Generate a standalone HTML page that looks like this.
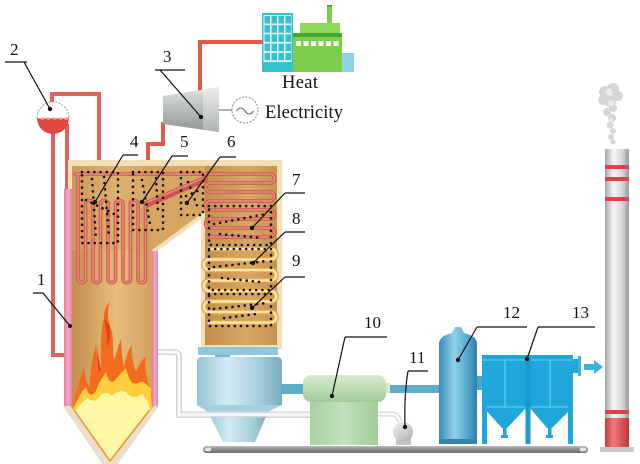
<!DOCTYPE html>
<html><head><meta charset="utf-8"><style>
html,body{margin:0;padding:0;background:#fff;}
svg{display:block;}
text{font-family:"Liberation Serif",serif;fill:#111;}
</style></head><body>
<svg width="640" height="464" viewBox="0 0 640 464" xmlns="http://www.w3.org/2000/svg">
<defs>
<linearGradient id="fur" x1="0" x2="1" y1="0" y2="0"><stop offset="0" stop-color="#c38d4d"/><stop offset="0.55" stop-color="#e6bd7d"/><stop offset="1" stop-color="#d3a162"/></linearGradient>
<linearGradient id="bp" x1="0" x2="1"><stop offset="0" stop-color="#c48e4c"/><stop offset="0.6" stop-color="#d7a864"/><stop offset="1" stop-color="#c69250"/></linearGradient>
<linearGradient id="turb" x1="0" x2="0" y1="0" y2="1"><stop offset="0" stop-color="#e2e4e4"/><stop offset="1" stop-color="#8e9394"/></linearGradient>
<linearGradient id="turb2" x1="0" x2="0" y1="0" y2="1"><stop offset="0" stop-color="#eceeee"/><stop offset="1" stop-color="#aeb2b3"/></linearGradient>
<linearGradient id="pre" x1="0" x2="1"><stop offset="0" stop-color="#93c4d3"/><stop offset="0.35" stop-color="#d3ebf2"/><stop offset="0.7" stop-color="#a9d2de"/><stop offset="1" stop-color="#79adbf"/></linearGradient>
<linearGradient id="grn" x1="0" x2="0" y1="0" y2="1"><stop offset="0" stop-color="#d6ecd0"/><stop offset="1" stop-color="#9fcb98"/></linearGradient>
<linearGradient id="grn2" x1="0" x2="1"><stop offset="0" stop-color="#a9d2a2"/><stop offset="0.5" stop-color="#c2e0bc"/><stop offset="1" stop-color="#a2cc9b"/></linearGradient>
<linearGradient id="tow" x1="0" x2="1"><stop offset="0" stop-color="#3b8db7"/><stop offset="0.4" stop-color="#8fd0e6"/><stop offset="0.75" stop-color="#55a8cc"/><stop offset="1" stop-color="#2f7ea7"/></linearGradient>
<linearGradient id="stk" x1="0" x2="1"><stop offset="0" stop-color="#a6a6a6"/><stop offset="0.35" stop-color="#f5f5f5"/><stop offset="0.7" stop-color="#d9d9d9"/><stop offset="1" stop-color="#9a9a9a"/></linearGradient>
<linearGradient id="stkr" x1="0" x2="1"><stop offset="0" stop-color="#c63a3e"/><stop offset="0.35" stop-color="#f27a78"/><stop offset="1" stop-color="#c03438"/></linearGradient>
<linearGradient id="conv" x1="0" x2="0" y1="0" y2="1"><stop offset="0" stop-color="#b9bdbe"/><stop offset="0.5" stop-color="#858a8b"/><stop offset="1" stop-color="#6a6f70"/></linearGradient>
<linearGradient id="pump" x1="0" x2="1" y1="0" y2="1"><stop offset="0" stop-color="#f4f4f4"/><stop offset="1" stop-color="#a8abac"/></linearGradient>
<linearGradient id="pink" x1="0" x2="1"><stop offset="0" stop-color="#e57ea6"/><stop offset="0.5" stop-color="#f5a6c4"/><stop offset="1" stop-color="#e483aa"/></linearGradient>
</defs>

<!-- buildings -->
<rect x="262" y="13" width="31" height="59" fill="#36c1cd"/>
<rect x="263.5" y="15" width="28" height="47" fill="#e2f8fa"/>
<g fill="#36c1cd">
<rect x="264.5" y="16" width="5.5" height="7.5"/><rect x="271.5" y="16" width="5.5" height="7.5"/><rect x="278.5" y="16" width="5.5" height="7.5"/><rect x="285.5" y="16" width="5.5" height="7.5"/>
<rect x="264.5" y="25.2" width="5.5" height="7.5"/><rect x="271.5" y="25.2" width="5.5" height="7.5"/><rect x="278.5" y="25.2" width="5.5" height="7.5"/><rect x="285.5" y="25.2" width="5.5" height="7.5"/>
<rect x="264.5" y="34.4" width="5.5" height="7.5"/><rect x="271.5" y="34.4" width="5.5" height="7.5"/><rect x="278.5" y="34.4" width="5.5" height="7.5"/><rect x="285.5" y="34.4" width="5.5" height="7.5"/>
<rect x="264.5" y="43.6" width="5.5" height="7.5"/><rect x="271.5" y="43.6" width="5.5" height="7.5"/><rect x="278.5" y="43.6" width="5.5" height="7.5"/><rect x="285.5" y="43.6" width="5.5" height="7.5"/>
<rect x="264.5" y="52.8" width="5.5" height="7.5"/><rect x="271.5" y="52.8" width="5.5" height="7.5"/><rect x="278.5" y="52.8" width="5.5" height="7.5"/><rect x="285.5" y="52.8" width="5.5" height="7.5"/>
</g>
<rect x="327" y="5" width="5" height="19" fill="#7dcd4a"/><rect x="327" y="5" width="5" height="1.5" fill="#4a9a38"/>
<rect x="300" y="23" width="40" height="11" fill="#8ed75a"/>
<rect x="293" y="36" width="49" height="36" fill="#7dcd4a"/>
<rect x="293" y="33" width="49" height="4" fill="#3da832"/>
<g fill="#f2fbe9"><rect x="296" y="41" width="5" height="5"/><rect x="303.5" y="41" width="5" height="5"/><rect x="311" y="41" width="5" height="5"/><rect x="318.5" y="41" width="5" height="5"/><rect x="326" y="41" width="5" height="5"/><rect x="333.5" y="41" width="5" height="5"/></g>
<rect x="342" y="53" width="12" height="19" fill="#8fd0e6"/>
<text x="282" y="88" font-size="18.5" textLength="36">Heat</text>

<!-- red steam pipes -->
<g fill="none" stroke="#e25a4e" stroke-width="4" stroke-linejoin="miter">
<path d="M200,92 L200,42 L263,42"/>
<path d="M163,122 L163,144 L148,144 L148,172"/>
</g>
<g fill="none" stroke="#e0625c" stroke-width="4">
<path d="M52,104 L52,94 L99,94 L99,172"/>
<path d="M53,132 L53,355 L66,355"/>
<path d="M67,124 L67,192"/>
</g>

<!-- turbine & generator -->
<polygon points="163,96 219,87 219,132 163,124" fill="url(#turb)"/>
<polygon points="203,89.6 219,87 219,132 203,129.5" fill="url(#turb2)"/>
<line x1="219" y1="110" x2="232" y2="110" stroke="#8a8a8a" stroke-width="1.3"/>
<circle cx="245" cy="110" r="13" fill="#fff" stroke="#9a9a9a" stroke-width="1.2" stroke-dasharray="2 1.4"/>
<path d="M236.5,111 q4.2,-6 8.5,0 t8.5,0" fill="none" stroke="#666" stroke-width="1.1"/>
<text x="265" y="118" font-size="18.5" textLength="78">Electricity</text>

<!-- drum -->
<path d="M37,118 A16,16 0 0 1 69,118 Z" fill="#fff" stroke="#9a9a9a" stroke-width="1" stroke-dasharray="2 1.4"/>
<path d="M37,118 A16,16 0 0 0 69,118 Z" fill="#e0473d"/>
<path d="M38,118.5 q1.5,-1.5 3,0 t3,0 t3,0 t3,0 t3,0 t3,0 t3,0 t3,0 t3,0 t3,0" fill="none" stroke="#fff" stroke-width="0.8"/>

<!-- boiler body -->
<polygon points="68,160 282,160 282,349 201,349 201,219 156,252 156,300 68,300" fill="#f1dfba"/>
<polygon points="72,166 277,166 277,345 205,345 205,211 152,250 152,407 72,407" fill="#d5a461"/>
<rect x="72" y="166" width="80" height="241" fill="url(#fur)"/>
<polygon points="72,166 205,166 205,211 152,250 72,250" fill="#d5a562" opacity="0.55"/>
<rect x="205" y="166" width="72" height="179" fill="url(#bp)"/>
<rect x="64" y="189" width="8" height="218" fill="url(#pink)"/>
<rect x="152" y="251" width="6" height="156" fill="url(#pink)"/>

<!-- hopper -->
<polygon points="63,406 159,406 113,471 107,471" fill="#eadfcc"/>
<polygon points="72,407 152,407 110,461" fill="#fff7a6" stroke="#e8902c" stroke-width="1.5"/>

<!-- flames -->
<path d="M73,410 C75,394 79,380 84,368 C85,378 87,384 90,388 C90,372 92,358 96,344 C97,356 98,364 101,370 C101,350 100,332 104,318 C103,312 106,306 110,302 C106,314 109,324 112,332 C114,342 112,350 114,360 C117,352 118,346 121,339 C122,350 122,360 124,367 C126,357 128,350 132,345 C131,356 134,366 136,372 C139,364 142,360 146,356 C144,370 148,385 152,394 L152,410 Z" fill="#f36c1d"/>
<path d="M104,318 C106,330 108,338 107,350 C109,342 111,336 110,326 Z M96,344 C98,356 97,364 99,372 L101,370 Z" fill="#e0451a"/>
<path d="M73,410 C77,400 81,392 86,387 C88,395 92,397 96,391 C98,384 102,378 106,372 C108,381 112,385 116,379 C120,374 123,371 126,368 C128,378 132,386 138,383 C142,380 146,383 151,389 L152,410 Z" fill="#ffce3a"/>
<path d="M76,410 C80,404 84,400 88,398 C92,402 96,402 100,396 C104,392 108,392 112,396 C116,392 120,390 126,392 C130,398 136,398 142,394 C146,398 149,402 150,410 Z" fill="#fff6a2"/>

<!-- tubes: furnace serpentine -->
<g fill="none" stroke-linecap="round">
<path id="t1" d="M75,174 L270,174 A4.5,4.5 0 0 1 270,183 L210,183 A4.5,4.5 0 0 0 210,192 L270,192 A4.5,4.5 0 0 1 270,201 L210,201 A4.5,4.5 0 0 0 210,210 L270,210 A4.5,4.5 0 0 1 270,219 L210,219 A4.5,4.5 0 0 0 210,228 L270,228 A4.5,4.5 0 0 1 270,237 L210,237 M78,174 L78,279 A3.75,3.75 0 0 0 85.5,279 L85.5,204 A3.75,3.75 0 0 1 93,204 L93,279 A3.75,3.75 0 0 0 100.5,279 L100.5,204 A3.75,3.75 0 0 1 108,204 L108,279 A3.75,3.75 0 0 0 115.5,279 L115.5,204 A3.75,3.75 0 0 1 123,204 L123,279 A3.75,3.75 0 0 0 130.5,279 L130.5,204 A3.75,3.75 0 0 1 138,204 L138,279 A3.75,3.75 0 0 0 145.5,279 L145.5,203 L206,177 M147,206 L206,180" stroke="#cd574e" stroke-width="3.6"/>
<path d="M75,174 L270,174 A4.5,4.5 0 0 1 270,183 L210,183 A4.5,4.5 0 0 0 210,192 L270,192 A4.5,4.5 0 0 1 270,201 L210,201 A4.5,4.5 0 0 0 210,210 L270,210 A4.5,4.5 0 0 1 270,219 L210,219 A4.5,4.5 0 0 0 210,228 L270,228 A4.5,4.5 0 0 1 270,237 L210,237 M78,174 L78,279 A3.75,3.75 0 0 0 85.5,279 L85.5,204 A3.75,3.75 0 0 1 93,204 L93,279 A3.75,3.75 0 0 0 100.5,279 L100.5,204 A3.75,3.75 0 0 1 108,204 L108,279 A3.75,3.75 0 0 0 115.5,279 L115.5,204 A3.75,3.75 0 0 1 123,204 L123,279 A3.75,3.75 0 0 0 130.5,279 L130.5,204 A3.75,3.75 0 0 1 138,204 L138,279 A3.75,3.75 0 0 0 145.5,279 L145.5,203 L206,177" stroke="#eb8f82" stroke-width="1.4"/>
<path d="M209,249 L271,249 A5.25,5.25 0 0 1 271,259.5 L209,259.5 A5.25,5.25 0 0 0 209,270 L271,270 A5.25,5.25 0 0 1 271,280.5 L209,280.5 A5.25,5.25 0 0 0 209,291 L271,291 A5.25,5.25 0 0 1 271,301.5 L209,301.5 A5.25,5.25 0 0 0 209,312 L271,312 A5.25,5.25 0 0 1 271,322.5 L209,322.5" stroke="#e2a24a" stroke-width="5"/>
<path d="M209,249 L271,249 A5.25,5.25 0 0 1 271,259.5 L209,259.5 A5.25,5.25 0 0 0 209,270 L271,270 A5.25,5.25 0 0 1 271,280.5 L209,280.5 A5.25,5.25 0 0 0 209,291 L271,291 A5.25,5.25 0 0 1 271,301.5 L209,301.5 A5.25,5.25 0 0 0 209,312 L271,312 A5.25,5.25 0 0 1 271,322.5 L209,322.5" stroke="#fbe6a8" stroke-width="2.6"/>
</g>

<!-- dots -->
<g fill="none" stroke="#141414" stroke-width="2.6" stroke-linecap="round" stroke-dasharray="0 6.2">
<rect x="82" y="172" width="36" height="71"/>
<path d="M92,179 L96,238 M104,177 L109,236 M86,200 L114,214"/>
<rect x="133" y="172" width="30" height="58"/>
<path d="M142,180 L150,224 M156,178 L158,212"/>
<rect x="181" y="172" width="22" height="43"/>
<path d="M188,182 L198,208 M186,196 L200,190"/>
<rect x="209" y="206" width="62" height="39"/>
<path d="M214,224 L266,214 M220,234 L262,238"/>
<rect x="209" y="249" width="62" height="41"/>
<path d="M214,267 L266,261 M222,278 L260,282"/>
<rect x="209" y="294" width="62" height="32"/>
<path d="M214,309 L266,303 M224,318 L256,314"/>
</g>

<!-- white pipe -->
<path d="M158,352 L174,352 Q179,352 179,357 L179,415 L310,415" fill="none" stroke="#d3d6d6" stroke-width="6"/>
<path d="M158,352 L174,352 Q179,352 179,357 L179,415 L310,415" fill="none" stroke="#fbfbfb" stroke-width="3"/>

<!-- air preheater -->
<rect x="198" y="347" width="80" height="8" fill="#8ec8da"/>
<rect x="215" y="355" width="15" height="3" fill="#78b6ca"/>
<path d="M197,405 L197,362 Q197,357 202,357 L277,357 Q282,357 282,362 L282,405 Z" fill="url(#pre)"/>
<polygon points="197,405 282,405 268,412 208,412" fill="#a4cfdc"/>
<polygon points="208,412 268,412 255,442 223,442" fill="url(#pre)"/>
<path d="M180,414.5 L310,414.5" stroke="#f4f6f6" stroke-width="3.5"/>
<path d="M180,412 L310,412 M180,417 L310,417" stroke="#d0d4d5" stroke-width="0.9"/>

<!-- ducts -->
<rect x="281" y="384" width="23" height="10" fill="#5aaec8"/>
<rect x="385" y="385" width="55" height="8" fill="#5aaec8"/>

<!-- conveyor -->
<rect x="203" y="446" width="385" height="7" rx="3.5" fill="url(#conv)"/>
<ellipse cx="208" cy="449.5" rx="3.5" ry="2" fill="#e4e6e6"/>
<ellipse cx="583" cy="449.5" rx="3.5" ry="2" fill="#e4e6e6"/>

<!-- 10 -->
<rect x="310" y="400" width="68" height="45" fill="url(#grn2)"/>
<rect x="303" y="375" width="83" height="27" rx="8" fill="url(#grn)"/>
<rect x="386" y="383" width="4" height="10" fill="#cfe8ca"/>
<path d="M378,414 L392,414 Q398,414 400,422" fill="none" stroke="#d3d6d6" stroke-width="5"/>
<path d="M378,414 L392,414 Q398,414 400,422" fill="none" stroke="#fbfbfb" stroke-width="2.5"/>

<!-- 11 pump -->
<rect x="396" y="438" width="15" height="7" fill="#c4c7c8"/>
<circle cx="403" cy="432" r="10" fill="url(#pump)"/>
<circle cx="405" cy="432" r="3" fill="#cfd1d2"/>

<!-- 12 tower -->
<path d="M439,444 L439,344 Q439,336 452,333 L455,327 L461,327 L464,333 Q477,336 477,344 L477,444 Z" fill="url(#tow)"/>
<rect x="439" y="439" width="38" height="5" fill="#3183ad"/>
<rect x="477" y="376" width="6" height="14" fill="#4aa6cb"/>

<!-- 13 baghouse -->
<rect x="482" y="355" width="91" height="53" fill="#1fa6da"/>
<g stroke="#52c3ea" stroke-width="1.6"><line x1="482" y1="360" x2="573" y2="360"/><line x1="505" y1="360" x2="505" y2="428"/><line x1="550" y1="360" x2="550" y2="428"/><line x1="482" y1="407" x2="573" y2="407"/></g>
<polygon points="484,408 526,408 507,428 502,428" fill="#1fa6da"/>
<polygon points="530,408 572,408 552,428 547,428" fill="#1fa6da"/>
<rect x="503" y="427" width="3.5" height="11" fill="#1fa6da"/><rect x="501" y="435" width="7" height="3" fill="#1fa6da"/>
<rect x="548" y="427" width="3.5" height="11" fill="#1fa6da"/><rect x="546" y="435" width="7" height="3" fill="#1fa6da"/>
<rect x="482" y="406" width="5" height="38" fill="#1fa6da"/>
<rect x="525.5" y="355" width="5" height="89" fill="#1b9bcd"/>
<rect x="568" y="406" width="5" height="38" fill="#1fa6da"/>
<rect x="573" y="359" width="6" height="14" fill="#1fa6da"/>
<rect x="578" y="356" width="3" height="20" fill="#39b4e0"/>
<rect x="584" y="364" width="11" height="6" fill="#39b4e0"/>
<polygon points="594,360 603,367 594,374" fill="#39b4e0"/>

<!-- stack -->
<rect x="605" y="149" width="24" height="298" fill="url(#stk)"/>
<g fill="#d9464a"><rect x="605" y="165" width="24" height="4"/><rect x="605" y="177" width="24" height="4"/><rect x="605" y="197" width="24" height="4"/><rect x="605" y="410" width="24" height="4"/></g>
<rect x="605" y="418" width="24" height="29" fill="url(#stkr)"/>
<rect x="600" y="447" width="34" height="5" fill="#c8caca"/>
<g fill="#d6d6d6">
<circle cx="605" cy="92" r="6"/><circle cx="613" cy="89" r="6"/><circle cx="618" cy="96" r="5"/><circle cx="603" cy="100" r="5"/><circle cx="610" cy="101" r="6"/><circle cx="613" cy="108" r="4"/><circle cx="607" cy="112" r="4"/><circle cx="612" cy="118" r="4"/><circle cx="610" cy="125" r="3.5"/><circle cx="613" cy="131" r="3"/><circle cx="611" cy="137" r="3"/><circle cx="613" cy="142" r="2.5"/>
</g>
<g fill="#ececec"><circle cx="609" cy="92" r="3.5"/><circle cx="611" cy="103" r="3"/><circle cx="611" cy="120" r="2"/></g>

<!-- leader lines -->
<g stroke="#111" stroke-width="1.2" fill="none">
<path d="M5,62 L27,62 M24,62 L50,109"/>
<path d="M155,70 L185,70 M160,70 L201,117"/>
<path d="M123,155 L138,155 M123,155 L95,202"/>
<path d="M172,156 L188,156 M172,156 L142,202"/>
<path d="M220,157 L236,157 M220,157 L187,203"/>
<path d="M285,193 L305,193 M285,193 L252,228"/>
<path d="M285,232 L305,232 M285,232 L253,263"/>
<path d="M285,277 L305,277 M285,277 L252,308"/>
<path d="M33,293 L43,293 L70,326"/>
<path d="M345,337 L387,337 M345,337 L332,396"/>
<path d="M408,371 L428,371 M408,371 Q404,395 405,427"/>
<path d="M477,327 L527,327 M477,327 L458,360"/>
<path d="M538,327 L595,327 M538,327 L527,359"/>
</g>
<g fill="#111">
<circle cx="50" cy="109" r="2.2"/><circle cx="201" cy="117" r="2.2"/><circle cx="95" cy="202" r="2.2"/><circle cx="142" cy="202" r="2.2"/><circle cx="187" cy="203" r="2.2"/><circle cx="252" cy="228" r="2.2"/><circle cx="253" cy="263" r="2.2"/><circle cx="252" cy="308" r="2.2"/><circle cx="70" cy="326" r="2"/><circle cx="332" cy="396" r="2.2"/><circle cx="405" cy="427" r="2.2"/><circle cx="458" cy="360" r="2.2"/><circle cx="527" cy="359" r="2.2"/>
</g>

<!-- labels -->
<g font-size="17">
<text x="10" y="55">2</text>
<text x="163" y="62">3</text>
<text x="130" y="147">4</text>
<text x="180" y="147">5</text>
<text x="227" y="147">6</text>
<text x="292" y="185">7</text>
<text x="292" y="224">8</text>
<text x="292" y="266">9</text>
<text x="37" y="285">1</text>
<text x="364" y="328">10</text>
<text x="409" y="363">11</text>
<text x="503" y="318">12</text>
<text x="572" y="318">13</text>
</g>
</svg>
</body></html>
